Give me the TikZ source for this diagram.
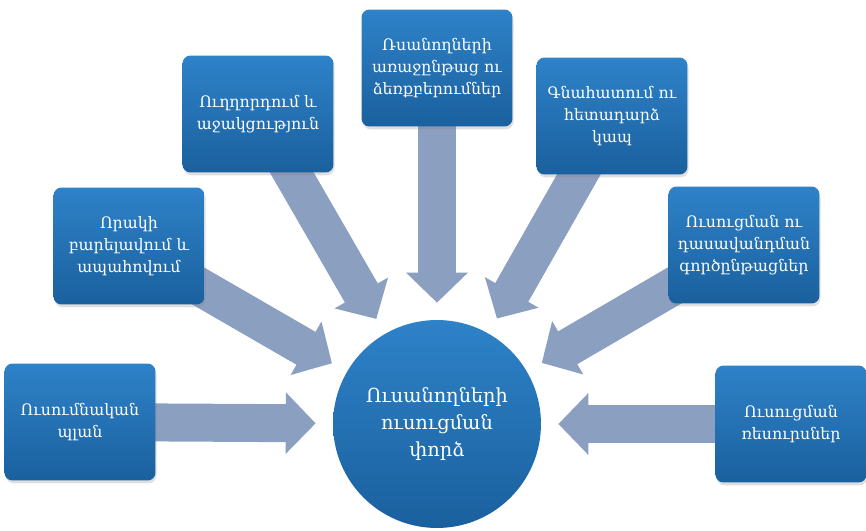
\documentclass[tikz,border=0pt]{standalone}
\usepackage{fontspec}
\setmainfont[Script=Armenian]{DejaVu Serif}
\usetikzlibrary{arrows.meta,shadows,backgrounds}

\definecolor{boxtop}{RGB}{46,130,200}
\definecolor{boxbottom}{RGB}{26,96,158}
\definecolor{arrowblue}{RGB}{139,159,192}

\begin{document}
\begin{tikzpicture}[x=0.02cm,y=-0.02cm]
    \tikzstyle{every node}=[text=white, align=center]
    \tikzstyle{topic}=[rectangle, rounded corners=0.16cm, minimum width=3.02cm, minimum height=2.34cm,
        inner sep=0pt, top color=boxtop, bottom color=boxbottom, font=\fontsize{9}{12.5}\selectfont,
        drop shadow={opacity=0.25, shadow xshift=0.6pt, shadow yshift=-1.6pt}]
    \tikzstyle{hub}=[circle, minimum size=4.16cm, inner sep=0pt, top color=boxtop, bottom color=boxbottom,
        font=\fontsize{11}{15.4}\selectfont]
    \tikzstyle{flow}=[line width=0.76cm, draw=arrowblue, -{Triangle[length=0.6cm,width=1.2cm]}, shorten >=0.34cm]

    \useasboundingbox (0,0) rectangle (866,531);

    % center
    \node[hub] (experience) at (437,424) {Ուսանողների\\ուսուցման\\փորձ};

    % topics round it
    \node[topic] (plan) at (80,422) {Ուսումնական\\պլան};
    \node[topic] (quality) at (129,246) {Որակի\\բարելավում և\\ապահովում};
    \node[topic] (guidance) at (258,114) {Ուղղորդում և\\աջակցություն};
    \node[topic] (progress) at (437,68) {Ռսանողների\\առաջընթաց ու\\ձեռքբերումներ};
    \node[topic] (feedback) at (612,116) {Գնահատում ու\\հետադարձ\\կապ};
    \node[topic] (teaching) at (744,245) {Ուսուցման ու\\դասավանդման\\գործընթացներ};
    \node[topic] (resources) at (791,424) {Ուսուցման\\ռեսուրսներ};

    \begin{scope}[on background layer]
        \foreach \from in {plan,quality,guidance,progress,feedback,teaching,resources}
            \draw[flow] (\from.center) -- (experience);
    \end{scope}
\end{tikzpicture}
\end{document}
